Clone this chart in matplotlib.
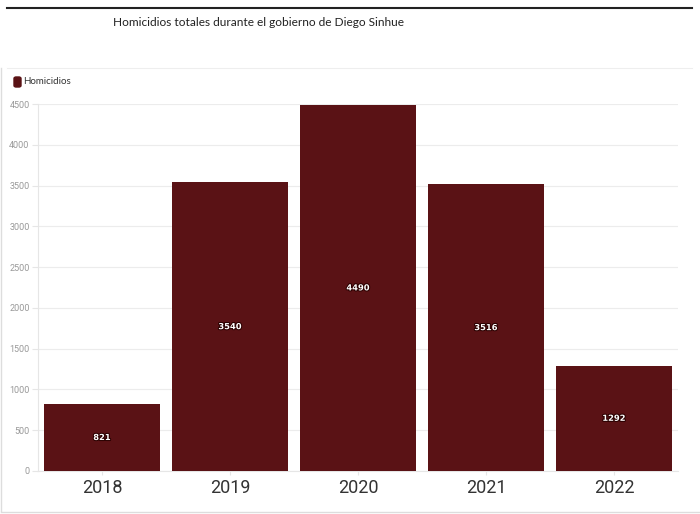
import matplotlib.pyplot as plt
import matplotlib.patheffects as pe
from matplotlib.lines import Line2D
from matplotlib.patches import FancyBboxPatch

# Datos
anios = ['2018', '2019', '2020', '2021', '2022']
homicidios = [821, 3540, 4490, 3516, 1292]
yticks = [0, 500, 1000, 1500, 2000, 2500, 3000, 3500, 4000, 4500]

color_barra = '#5a1215'

fig = plt.figure(figsize=(7, 5.14), dpi=100)
ax = fig.add_axes([38 / 700, 1 - 471 / 514, 640 / 700, 367 / 514])

x = range(len(anios))
bars = ax.bar(x, homicidios, width=0.9, color=color_barra, zorder=3)

# Etiquetas en las barras
for b, v in zip(bars, homicidios):
    ax.text(b.get_x() + b.get_width() / 2, v / 2, str(v), ha='center', va='center',
            color='white', fontsize=6, fontweight='bold', family='DejaVu Sans',
            path_effects=[pe.withStroke(linewidth=1.5, foreground='#2a0000')], zorder=4)

ax.set_xlim(-0.5, len(anios) - 0.5)
ax.set_ylim(0, 4500)
ax.set_yticks(yticks)
ax.set_yticklabels([str(t) for t in yticks], fontsize=6.5, color='#999999', family='Roboto')
ax.set_xticks(list(x))
ax.set_xticklabels(anios, fontsize=13, color='#333333', family='Roboto')
ax.tick_params(axis='y', length=4, color='#e6e6e6', pad=2)
ax.tick_params(axis='x', length=3, color='#e6e6e6', pad=3)
ax.grid(axis='y', color='#ececec', linewidth=0.8, zorder=0)
for s in ['top', 'right']:
    ax.spines[s].set_visible(False)
ax.spines['left'].set_color('#e6e6e6')
ax.spines['bottom'].set_color('#e6e6e6')

# Título y leyenda
fig.text(113 / 700, 1 - 22 / 514, 'Homicidios totales durante el gobierno de Diego Sinhue',
         fontsize=8.6, color='#222222', family='Lato', va='center', ha='left')
fig.add_artist(Line2D([7 / 700, 692 / 700], [1 - 8 / 514, 1 - 8 / 514], color='#222222', lw=1.5))
fig.add_artist(Line2D([7 / 700, 692 / 700], [1 - 68 / 514, 1 - 68 / 514], color='#eeeeee', lw=0.8))
fig.add_artist(FancyBboxPatch((14 / 700, 1 - 87 / 514), 7 / 700, 10 / 514,
                              boxstyle='round,pad=0,rounding_size=0.003', color=color_barra,
                              transform=fig.transFigure))
fig.text(23 / 700, 1 - 82 / 514, 'Homicidios', fontsize=7, color='#333333',
         family='Lato', va='center', ha='left')

# Marco exterior
fig.add_artist(Line2D([1 / 700, 1 / 700], [0.005, 1 - 68 / 514], color='#dddddd', lw=1))
fig.add_artist(Line2D([1 / 700, 699 / 700], [2 / 514, 2 / 514], color='#dddddd', lw=1))

fig.savefig('out.png', dpi=100)
